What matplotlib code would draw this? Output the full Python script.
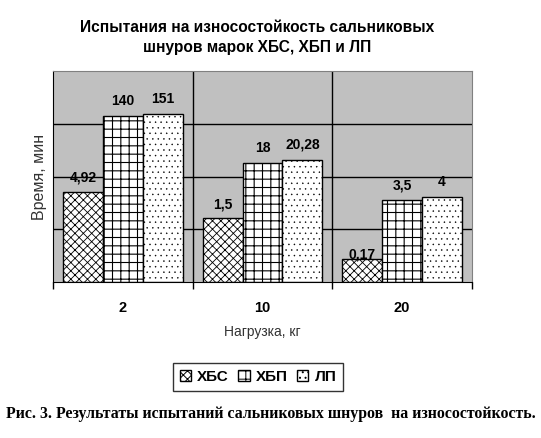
import matplotlib
matplotlib.use("Agg")
import matplotlib.pyplot as plt
import numpy as np

plt.rcParams['font.family'] = ['Liberation Sans', 'DejaVu Sans']
plt.rcParams['hatch.linewidth'] = 0.7

categories = ['2', '10', '20']
series_names = ['ХБС', 'ХБП', 'ЛП']
values_hbs = [4.92, 1.5, 0.17]
values_hbp = [140, 18, 3.5]
values_lp = [151, 20.28, 4]
labels_hbs = ['4,92', '1,5', '0,17']
labels_hbp = ['140', '18', '3,5']
labels_lp = ['151', '20,28', '4']

fig = plt.figure(figsize=(5.41, 4.38), dpi=100)
ax = fig.add_axes([53/541, 1-282/438, (472-53)/541, (282-71)/438])
ax.set_facecolor('#c0c0c0')

x = np.arange(len(categories))
w = 40/140
hatches = ['xxxx', '++', '...']
hatch_lw = [0.6, 0.8, 0.3]
allvals = [values_hbs, values_hbp, values_lp]
alllabels = [labels_hbs, labels_hbp, labels_lp]
ax.set_yscale('log')
ax.set_ylim(0.1, 1000)
ax.set_xlim(-0.5, 2.5)
for yv in [1, 10, 100]:
    ax.axhline(yv, color='black', lw=1, zorder=1)
for xv in [0.5, 1.5]:
    ax.axvline(xv, color='black', lw=1, zorder=1)

for i, (vals, labs, h, name) in enumerate(zip(allvals, alllabels, hatches, series_names)):
    pos = x + (i-1)*w
    with plt.rc_context({'hatch.linewidth': hatch_lw[i]}):
        ax.bar(pos, vals, width=w, bottom=0.1, color='white', edgecolor='black', hatch=h,
               linewidth=1, label=name, zorder=2)
    for p, v, l in zip(pos, vals, labs):
        ax.annotate(l, (p, v), xytext=(0, 6), textcoords='offset points', ha='center',
                    va='bottom', fontsize=10, fontweight='bold', zorder=3)

ax.set_xticks(x)
ax.set_xticklabels(categories, fontsize=10.5, fontweight='bold')
ax.tick_params(axis='x', which='major', length=0, pad=14)
ax.set_yticks([])
ax.yaxis.set_minor_locator(matplotlib.ticker.NullLocator())
ax.set_xticks([-0.5, 0.5, 1.5, 2.5], minor=True)
ax.tick_params(axis='x', which='minor', length=5, width=1, direction='out', color='black')
for s in ['top', 'right']:
    ax.spines[s].set_color('#808080')
ax.spines['left'].set_color('black')
ax.spines['bottom'].set_color('black')

ax.set_xlabel('Нагрузка, кг', fontsize=10, color='#333333', labelpad=7)
ax.set_ylabel('Время, мин', fontsize=11.5, color='#333333', labelpad=4)

fig.text(0.476, 1-37.5/438, 'Испытания на износостойкость сальниковых\nшнуров марок ХБС, ХБП и ЛП',
         ha='center', va='center', fontsize=11.2, fontweight='bold', linespacing=1.4)

leg = fig.legend(loc='center', bbox_to_anchor=(258/541, 1-377/438), ncol=3, frameon=True,
                 fancybox=False, edgecolor='black', prop={'weight': 'bold', 'size': 11},
                 handlelength=0.75, handleheight=0.75, handletextpad=0.4, columnspacing=0.6,
                 borderpad=0.45, borderaxespad=0)
leg.get_frame().set_linewidth(1)

fig.text(0.5, 1-414/438, 'Рис. 3. Результаты испытаний сальниковых шнуров  на износостойкость.',
         ha='center', va='center', fontsize=11.4, fontweight='bold', family=['Liberation Serif'])

fig.savefig('out.png', dpi=100)
